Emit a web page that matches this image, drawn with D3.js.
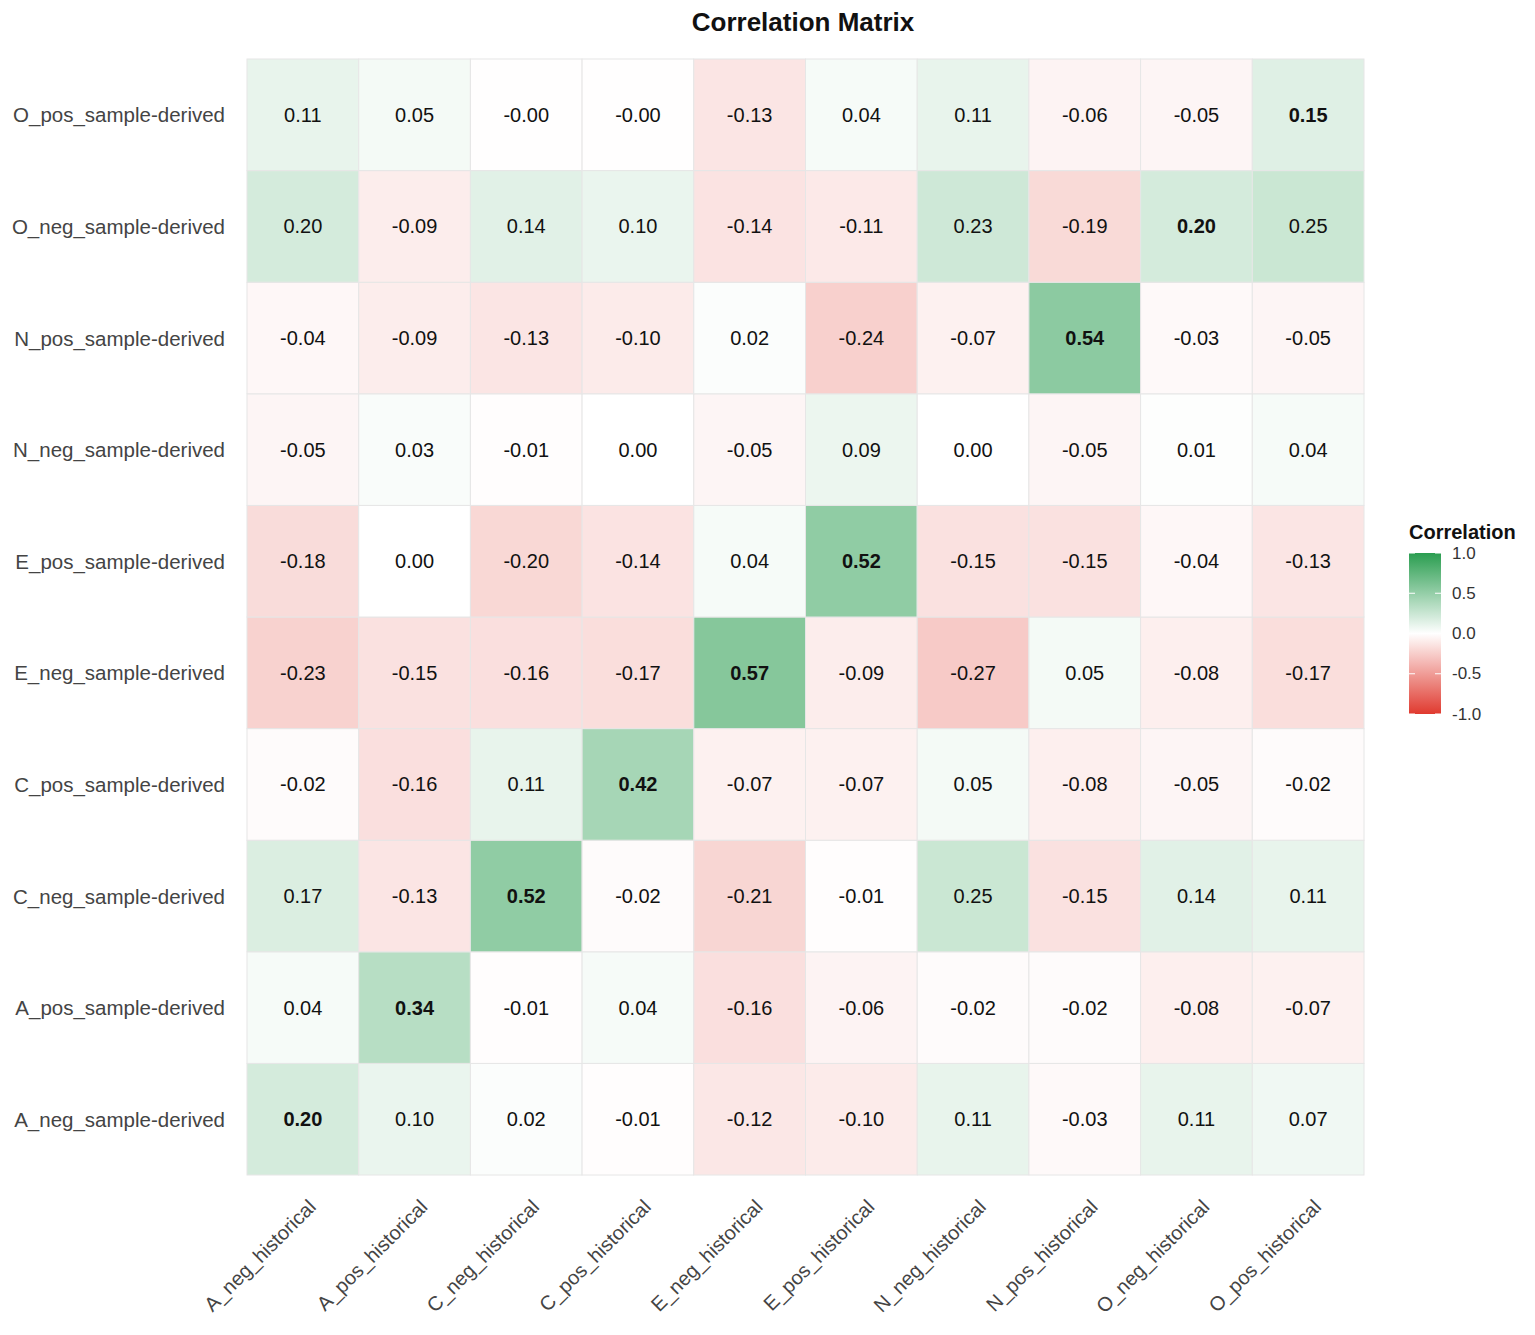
<!DOCTYPE html>
<html>
<head>
<meta charset="utf-8">
<script src="https://cdn.jsdelivr.net/npm/d3@7"></script>
<style>
  body { margin: 0; background: #fff; font-family: "Liberation Sans", Arial, sans-serif; }
</style>
</head>
<body>
<svg id="chart"></svg>
<script>
// columns (historical) and rows (sample-derived), rows listed bottom to top
const colLabels = ["A_neg_historical", "A_pos_historical", "C_neg_historical", "C_pos_historical", "E_neg_historical",
  "E_pos_historical", "N_neg_historical", "N_pos_historical", "O_neg_historical", "O_pos_historical"];
const rowLabels = ["A_neg_sample-derived", "A_pos_sample-derived", "C_neg_sample-derived", "C_pos_sample-derived",
  "E_neg_sample-derived", "E_pos_sample-derived", "N_neg_sample-derived", "N_pos_sample-derived",
  "O_neg_sample-derived", "O_pos_sample-derived"];
const values = [
  [0.20, 0.10, 0.02, -0.01, -0.12, -0.10, 0.11, -0.03, 0.11, 0.07],
  [0.04, 0.34, -0.01, 0.04, -0.16, -0.06, -0.02, -0.02, -0.08, -0.07],
  [0.17, -0.13, 0.52, -0.02, -0.21, -0.01, 0.25, -0.15, 0.14, 0.11],
  [-0.02, -0.16, 0.11, 0.42, -0.07, -0.07, 0.05, -0.08, -0.05, -0.02],
  [-0.23, -0.15, -0.16, -0.17, 0.57, -0.09, -0.27, 0.05, -0.08, -0.17],
  [-0.18, 0.00, -0.20, -0.14, 0.04, 0.52, -0.15, -0.15, -0.04, -0.13],
  [-0.05, 0.03, -0.01, 0.00, -0.05, 0.09, 0.00, -0.05, 0.01, 0.04],
  [-0.04, -0.09, -0.13, -0.10, 0.02, -0.24, -0.07, 0.54, -0.03, -0.05],
  [0.20, -0.09, 0.14, 0.10, -0.14, -0.11, 0.23, -0.19, 0.20, 0.25],
  [0.11, 0.05, -0.004, -0.004, -0.13, 0.04, 0.11, -0.06, -0.05, 0.15]
];
const legendTicks = [1.0, 0.5, 0.0, -0.5, -1.0];

const W = 1535, H = 1335;
const svg = d3.select("#chart").attr("width", W).attr("height", H);

const x = d3.scaleBand().domain(colLabels).range([247, 1364]);
const y = d3.scaleBand().domain(rowLabels).range([1175, 59]);
const color = d3.scaleLinear().domain([-1, 0, 1]).range(["#E03A2F", "#ffffff", "#2A9D50"]);

const cells = [];
values.forEach((row, i) => row.forEach((v, j) => cells.push({ r: rowLabels[i], c: colLabels[j], v, diag: i === j && v !== 0 })));

svg.append("g").selectAll("rect").data(cells).enter().append("rect")
  .attr("x", d => x(d.c)).attr("y", d => y(d.r))
  .attr("width", x.bandwidth()).attr("height", y.bandwidth())
  .attr("fill", d => color(d.v)).attr("stroke", "#e6e6e6").attr("stroke-width", 1);

svg.append("g").selectAll("text").data(cells).enter().append("text")
  .attr("x", d => x(d.c) + x.bandwidth() / 2).attr("y", d => y(d.r) + y.bandwidth() / 2)
  .attr("text-anchor", "middle").attr("dominant-baseline", "central")
  .attr("font-size", 20).attr("fill", "#111")
  .attr("font-weight", d => d.diag ? "bold" : "normal")
  .text(d => d.v.toFixed(2));

// row labels
svg.append("g").selectAll("text").data(rowLabels).enter().append("text")
  .attr("x", 225).attr("y", d => y(d) + y.bandwidth() / 2)
  .attr("text-anchor", "end").attr("dominant-baseline", "central")
  .attr("font-size", 20.5).attr("fill", "#444").text(d => d);

// column labels, rotated
svg.append("g").selectAll("text").data(colLabels).enter().append("text")
  .attr("transform", d => `translate(${x(d) + x.bandwidth() / 2 + 4},${1198}) rotate(-45)`)
  .attr("text-anchor", "end").attr("dominant-baseline", "hanging")
  .attr("font-size", 20).attr("fill", "#444").text(d => d);

// title
svg.append("text").attr("x", 803).attr("y", 31).attr("text-anchor", "middle")
  .attr("font-size", 26).attr("font-weight", "bold").attr("fill", "#111").text("Correlation Matrix");

// legend
const defs = svg.append("defs");
const grad = defs.append("linearGradient").attr("id", "lg").attr("x1", 0).attr("x2", 0).attr("y1", 0).attr("y2", 1);
d3.range(0, 1.01, 0.1).forEach(t => grad.append("stop").attr("offset", t).attr("stop-color", color(1 - 2 * t)));
const ly = d3.scaleLinear().domain([1, -1]).range([553, 714]);
svg.append("text").attr("x", 1409).attr("y", 539).attr("font-size", 20).attr("font-weight", "bold")
  .attr("fill", "#111").text("Correlation");
svg.append("rect").attr("x", 1409).attr("y", ly(1)).attr("width", 32).attr("height", ly(-1) - ly(1))
  .attr("fill", "url(#lg)");
const lt = svg.append("g").selectAll("g").data(legendTicks).enter().append("g");
lt.append("line").attr("x1", 1409).attr("x2", 1415).attr("y1", d => ly(d)).attr("y2", d => ly(d)).attr("stroke", "#fff");
lt.append("line").attr("x1", 1435).attr("x2", 1441).attr("y1", d => ly(d)).attr("y2", d => ly(d)).attr("stroke", "#fff");
lt.append("text").attr("x", 1452).attr("y", d => ly(d)).attr("dominant-baseline", "central")
  .attr("font-size", 17).attr("fill", "#333").text(d => d.toFixed(1));
</script>
</body>
</html>
